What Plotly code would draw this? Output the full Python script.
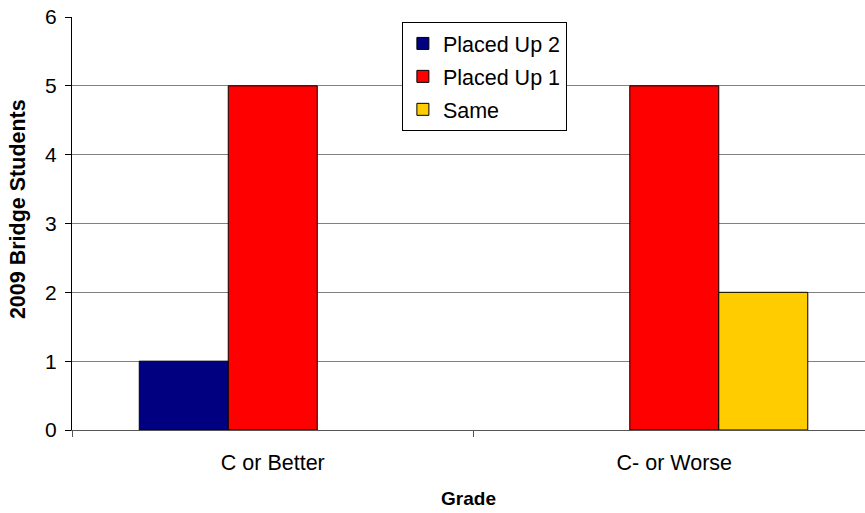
import plotly.graph_objects as go

categories = ["C or Better", "C- or Worse"]
series_names = ["Placed Up 2", "Placed Up 1", "Same"]
placed_up_2 = [1, 0]
placed_up_1 = [5, 5]
same = [0, 2]
colors = ["#000080", "#FF0000", "#FFCC00"]
y_ticks = [0, 1, 2, 3, 4, 5, 6]
x_title = "Grade"
y_title = "2009 Bridge Students"

fig = go.Figure()
for name, vals, col in zip(series_names, [placed_up_2, placed_up_1, same], colors):
    fig.add_trace(go.Bar(
        x=categories, y=[v if v else None for v in vals], name=name, legendgroup=name,
        marker=dict(color=col, line=dict(color="black", width=1)),
    ))

font = "Liberation Sans, Arial, sans-serif"
fig.update_layout(
    width=865, height=513,
    margin=dict(l=72, r=0, t=17, b=83),
    paper_bgcolor="white", plot_bgcolor="white",
    barmode="group", bargap=0.335, bargroupgap=0,
    font=dict(family=font, size=18, color="black"),
    legend=dict(
        x=0.416, y=0.988, xanchor="left", yanchor="top",
        bgcolor="white", bordercolor="black", borderwidth=1,
        font=dict(size=21.5), traceorder="grouped",
        tracegroupgap=2,
    ),
    xaxis=dict(
        range=[-0.5, 1.475], tickson="boundaries", automargin=False,
        ticks="outside", ticklen=6, tickcolor="#555555",
        showline=True, linecolor="#555555", linewidth=1,
        tickfont=dict(size=21.5), ticklabelstandoff=13,
        title=dict(text="<b>" + x_title + "</b>", font=dict(size=19), standoff=17),
    ),
    yaxis=dict(
        range=[0, 6], tickvals=y_ticks, automargin=False,
        ticks="outside", ticklen=6, tickcolor="black",
        showline=True, linecolor="black", linewidth=1,
        showgrid=True, gridcolor="#808080", gridwidth=1,
        zeroline=False,
        tickfont=dict(size=21), ticklabelstandoff=4,
    ),
    annotations=[dict(
        text="<b>" + y_title + "</b>", textangle=-90,
        xref="paper", yref="paper", x=-0.068, y=0.535,
        xanchor="center", yanchor="middle", showarrow=False,
        font=dict(size=21.5),
    )],
)

fig.write_html("out.html", post_script="document.body.style.margin='0';",
               config={"displayModeBar": False})
